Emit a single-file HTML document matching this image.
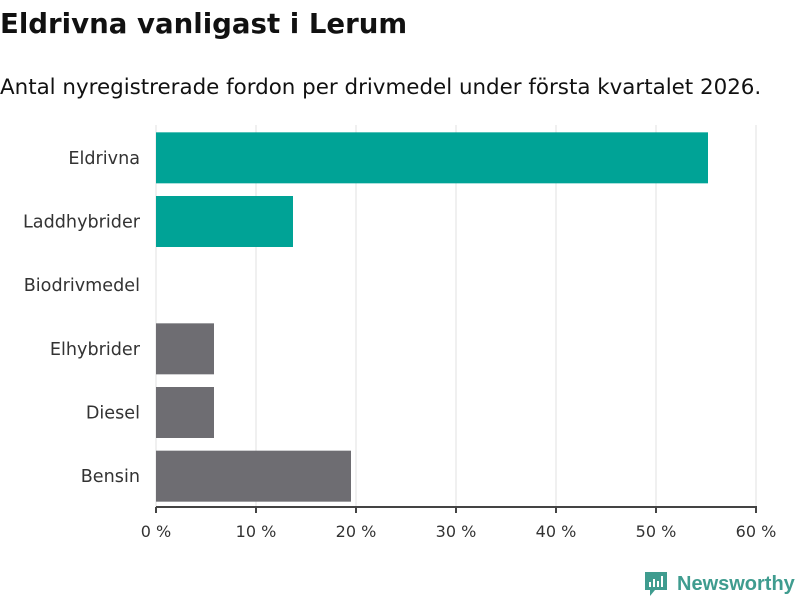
<!DOCTYPE html>
<html><head><meta charset="utf-8"><style>
body{margin:0;background:#fff;width:800px;height:600px;overflow:hidden;font-family:"DejaVu Sans","Liberation Sans",sans-serif;}
</style></head><body>
<svg width="800" height="600" xmlns="http://www.w3.org/2000/svg">
<text x="0" y="33" font-size="27.6" font-weight="bold" fill="#111">Eldrivna vanligast i Lerum</text>
<text x="0" y="94" font-size="21.4" fill="#111">Antal nyregistrerade fordon per drivmedel under första kvartalet 2026.</text>
<g id="grid"></g><g id="bars"></g><g id="axis"></g>
<g>
<path d="M645 572h22v18h-12l-5 6v-6h-5z" fill="#3f9c8f"/>
<rect x="649" y="582" width="2" height="5" fill="#fff"/><rect x="653" y="579" width="2" height="8" fill="#fff"/><rect x="657" y="581" width="2" height="6" fill="#fff"/><rect x="661" y="576" width="2" height="11" fill="#fff"/>
<text x="677" y="590" font-size="20" font-weight="bold" fill="#3f9c8f" font-family="Liberation Sans, sans-serif">Newsworthy</text>
</g>
</svg>
<script>
const categories=["Eldrivna","Laddhybrider","Biodrivmedel","Elhybrider","Diesel","Bensin"];
const values=[55.2,13.7,0,5.8,5.8,19.5];
const colors=["#00a396","#00a396","#00a396","#6e6d72","#6e6d72","#6e6d72"];
const ticks=[0,10,20,30,40,50,60];
const tickLabels=["0 %","10 %","20 %","30 %","40 %","50 %","60 %"];
const NS="http://www.w3.org/2000/svg";
const x0=156,x1=756,plotTop=125,plotBot=507;
const xs=v=>x0+(v/60)*(x1-x0);
const step=(plotBot-plotTop)/categories.length;
function mk(t,a,p){const e=document.createElementNS(NS,t);for(const k in a)e.setAttribute(k,a[k]);p.appendChild(e);return e;}
const g=document.getElementById('grid'),b=document.getElementById('bars'),ax=document.getElementById('axis');
ticks.forEach((t,i)=>{
 const l=mk('line',{x1:xs(t),x2:xs(t),y1:plotTop,y2:plotBot,stroke:'#e0e0e0','stroke-width':1},g);
 
 
 const tk=mk('line',{x1:xs(t),x2:xs(t),y1:plotBot,y2:plotBot+6,stroke:'#444','stroke-width':2},ax);
 
 
 const tx=mk('text',{x:xs(t),y:plotBot+30,'text-anchor':'middle','font-size':16,fill:'#333'},ax);
 tx.textContent=tickLabels[i];
 
 
});
const al=mk('line',{x1:x0,x2:x1+1,y1:plotBot,y2:plotBot,stroke:'#444','stroke-width':2},ax);


categories.forEach((c,i)=>{
 const y=plotTop+i*step;
 const bh=51,by=y+(step-bh)/2+1;
 const r=mk('rect',{x:x0,y:by,width:Math.max(0,xs(values[i])-x0),height:bh,fill:colors[i]},b);
 
 
 const t=mk('text',{x:140,y:y+step/2+7,'text-anchor':'end','font-size':17.6,fill:'#333'},ax);
 t.textContent=c;
 
 
});
</script>
</body></html>
